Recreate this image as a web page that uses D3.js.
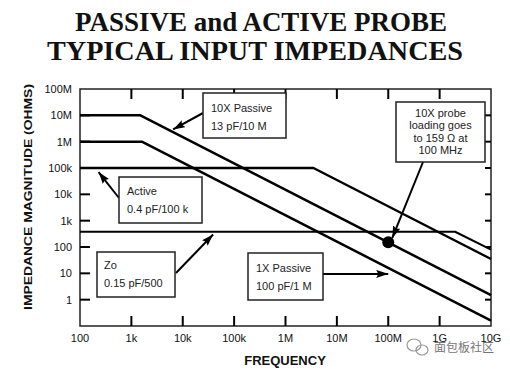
<!DOCTYPE html>
<html>
<head>
<meta charset="utf-8">
<script src="https://cdn.jsdelivr.net/npm/d3@7"></script>
<style>
  body { margin: 0; background: #fff; }
  svg { display: block; }
</style>
</head>
<body>
<svg id="chart" width="510" height="372"></svg>
<script>
// frequency (Hz) / impedance (ohms) pairs
var passive10x = [[100, 1e7], [1.5e3, 1e7], [1e10, 1.5]];
var passive1x  = [[100, 1e6], [1.6e3, 1e6], [1e10, 0.16]];
var active     = [[100, 1e5], [3.5e6, 1e5], [1e10, 35]];
var zo         = [[100, 380], [2e9, 380], [1e10, 80]];
var loadingDot = [1e8, 150];

var xTicks      = [100, 1e3, 1e4, 1e5, 1e6, 1e7, 1e8, 1e9, 1e10];
var xTickLabels = ['100', '1k', '10k', '100k', '1M', '10M', '100M', '1G', '10G'];
var yTicks      = [1e8, 1e7, 1e6, 1e5, 1e4, 1e3, 100, 10, 1];
var yTickLabels = ['100M', '10M', '1M', '100k', '10k', '1k', '100', '10', '1'];

var titleLines = ['PASSIVE and ACTIVE PROBE', 'TYPICAL INPUT IMPEDANCES'];

// callout boxes: box in px, arrow from box side to a point in data units
var notes = [
    {lines: ['10X Passive', '13 pF/10 M'], box: [203, 93, 83, 45], tx: 211, ty: [112, 130], from: [203, 113], tip: [6.5e3, 2.9e6]},
    {lines: ['Active', '0.4 pF/100 k'], box: [119, 177, 83, 46], tx: 127, ty: [195, 213], from: [119, 198], tip: [230, 7e4]},
    {lines: ['Zo', '0.15 pF/500'], box: [97, 252, 78, 45], tx: 104, ty: [269, 287], from: [176, 273], tip: [3.9e4, 300]},
    {lines: ['1X Passive', '100 pF/1 M'], box: [248, 253, 75, 47], tx: 256, ty: [272, 290], from: [323, 274], tip: [1e8, 9.5]},
    {lines: ['10X probe', 'loading goes', 'to 159 \u03A9 at', '100 MHz'], box: [396, 102, 89, 60], tx: 440.5, ty: [116.5, 129, 141.5, 154], anchor: 'middle', from: [423, 162], tip: [1.2e8, 220]}
];

var plotLeft = 80, plotRight = 491, plotTop = 89, plotBottom = 326;

var svg = d3.select('#chart');

var x = d3.scaleLog().domain([100, 1e10]).range([plotLeft, plotRight]);
var y = d3.scaleLog().domain([0.1, 1e8]).range([plotBottom, plotTop]);

svg.append('defs').append('marker')
    .attr('id', 'head')
    .attr('markerUnits', 'userSpaceOnUse')
    .attr('viewBox', '0 0 12 8')
    .attr('refX', 12).attr('refY', 4)
    .attr('markerWidth', 12).attr('markerHeight', 8)
    .attr('orient', 'auto')
    .append('path')
    .attr('d', 'M0,0 L12,4 L0,8 L2,4 Z')
    .attr('fill', '#000');

// title
svg.selectAll('.title')
    .data(titleLines)
    .enter().append('text')
    .attr('class', 'title')
    .attr('x', function(d, i) { return i == 0 ? 75 : 47; })
    .attr('y', function(d, i) { return i == 0 ? 31 : 60; })
    .attr('textLength', function(d, i) { return i == 0 ? 372 : 416; })
    .attr('lengthAdjust', 'spacingAndGlyphs')
    .attr('font-family', '"Liberation Serif", "DejaVu Serif", serif')
    .attr('font-weight', 'bold')
    .attr('font-size', 27)
    .attr('fill', '#111')
    .text(function(d) { return d; });

// frame
svg.append('rect')
    .attr('x', plotLeft).attr('y', plotTop)
    .attr('width', plotRight - plotLeft).attr('height', plotBottom - plotTop)
    .attr('fill', 'none').attr('stroke', '#222').attr('stroke-width', 1.5);

// inward ticks on all four sides
var inner = xTicks.slice(1, -1);
svg.selectAll('.xt-top').data(inner).enter().append('line')
    .attr('x1', x).attr('x2', x).attr('y1', plotTop).attr('y2', plotTop + 10)
    .attr('stroke', '#000').attr('stroke-width', 2);
svg.selectAll('.xt-bot').data(inner).enter().append('line')
    .attr('x1', x).attr('x2', x).attr('y1', plotBottom).attr('y2', plotBottom - 10)
    .attr('stroke', '#000').attr('stroke-width', 2);
svg.selectAll('.yt-left').data(yTicks.slice(1)).enter().append('line')
    .attr('x1', plotLeft).attr('x2', plotLeft + 10).attr('y1', y).attr('y2', y)
    .attr('stroke', '#000').attr('stroke-width', 2);
svg.selectAll('.yt-right').data(yTicks.slice(1)).enter().append('line')
    .attr('x1', plotRight).attr('x2', plotRight - 6).attr('y1', y).attr('y2', y)
    .attr('stroke', '#000').attr('stroke-width', 2);

// tick labels
svg.selectAll('.xl').data(xTicks).enter().append('text')
    .attr('x', x).attr('y', 342)
    .attr('text-anchor', 'middle')
    .attr('font-family', '"Liberation Sans", Arial, sans-serif')
    .attr('font-size', 11)
    .attr('fill', '#111')
    .text(function(d, i) { return xTickLabels[i]; });

svg.selectAll('.yl').data(yTicks).enter().append('text')
    .attr('x', 72).attr('y', function(d) { return y(d) + 4; })
    .attr('text-anchor', 'end')
    .attr('font-family', '"Liberation Sans", Arial, sans-serif')
    .attr('font-size', 11)
    .attr('fill', '#111')
    .text(function(d, i) { return yTickLabels[i]; });

// axis titles
svg.append('text')
    .attr('x', 285).attr('y', 365)
    .attr('text-anchor', 'middle')
    .attr('font-family', '"Liberation Sans", Arial, sans-serif')
    .attr('font-weight', 'bold').attr('font-size', 13)
    .attr('fill', '#111')
    .text('FREQUENCY');

svg.append('text')
    .attr('transform', 'translate(32,197) rotate(-90)')
    .attr('text-anchor', 'middle')
    .attr('textLength', 226).attr('lengthAdjust', 'spacingAndGlyphs')
    .attr('font-family', '"Liberation Sans", Arial, sans-serif')
    .attr('font-weight', 'bold').attr('font-size', 11.5)
    .attr('fill', '#111')
    .text('IMPEDANCE MAGNITUDE (OHMS)');

// curves
var line = d3.line()
    .x(function(d) { return x(d[0]); })
    .y(function(d) { return y(d[1]); });

var curves = [
    {data: passive10x, w: 2.5},
    {data: passive1x, w: 2.5},
    {data: active, w: 2.5},
    {data: zo, w: 2}
];

svg.selectAll('.curve').data(curves).enter().append('path')
    .attr('d', function(d) { return line(d.data); })
    .attr('fill', 'none')
    .attr('stroke', '#000')
    .attr('stroke-width', function(d) { return d.w; })
    .attr('stroke-linejoin', 'round');

svg.append('circle')
    .attr('cx', x(loadingDot[0])).attr('cy', y(loadingDot[1]))
    .attr('r', 6).attr('fill', '#000');

// callouts
notes.forEach(function(n) {
    var g = svg.append('g');
    g.append('line')
        .attr('x1', n.from[0]).attr('y1', n.from[1])
        .attr('x2', x(n.tip[0])).attr('y2', y(n.tip[1]))
        .attr('stroke', '#000').attr('stroke-width', 2)
        .attr('marker-end', 'url(#head)');
    g.append('rect')
        .attr('x', n.box[0]).attr('y', n.box[1])
        .attr('width', n.box[2]).attr('height', n.box[3])
        .attr('fill', '#fff').attr('stroke', '#222').attr('stroke-width', 1.5);
    n.lines.forEach(function(t, i) {
        g.append('text')
            .attr('x', n.tx).attr('y', n.ty[i])
            .attr('text-anchor', n.anchor || 'start')
            .attr('font-family', '"Liberation Sans", Arial, sans-serif')
            .attr('font-size', 11)
            .attr('fill', '#222')
            .text(t);
    });
});

// watermark
var wm = svg.append('g').attr('fill', 'none').attr('stroke', '#999').attr('stroke-width', 1.2);
wm.append('ellipse').attr('cx', 414).attr('cy', 345).attr('rx', 7).attr('ry', 6);
wm.append('ellipse').attr('cx', 422).attr('cy', 350).attr('rx', 6).attr('ry', 5);
svg.append('text')
    .attr('x', 434).attr('y', 352)
    .attr('font-family', '"Noto Sans CJK SC", sans-serif')
    .attr('font-size', 12)
    .attr('fill', '#777')
    .text('面包板社区');
</script>
</body>
</html>
